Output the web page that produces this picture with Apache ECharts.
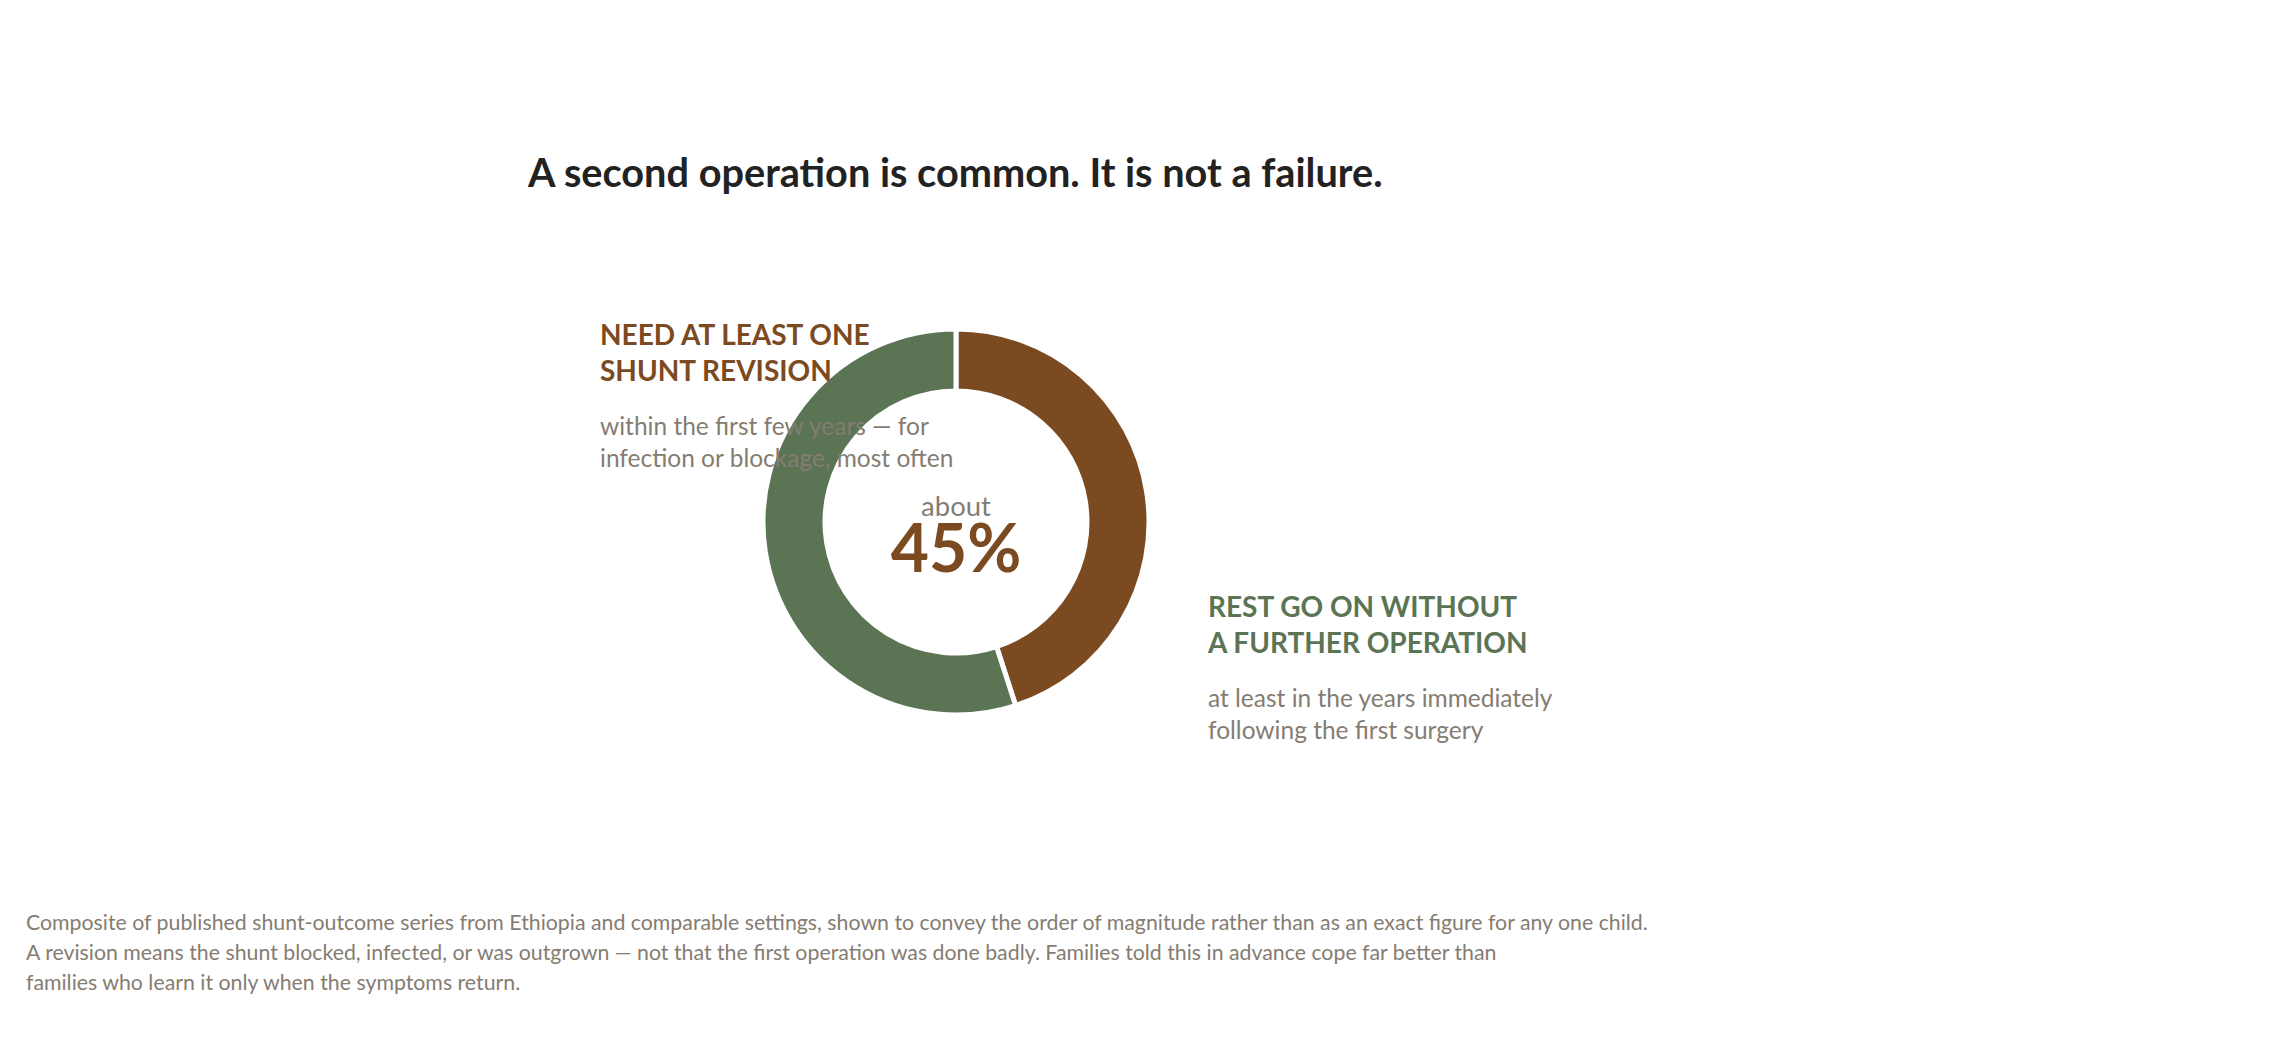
<!DOCTYPE html>
<html>
<head>
<meta charset="utf-8">
<script src="https://cdn.jsdelivr.net/npm/echarts@6/dist/echarts.min.js"></script>
<style>
  html, body { margin: 0; padding: 0; background: #fff; }
  #chart { width: 2280px; height: 1040px; }
</style>
</head>
<body>
<div id="chart"></div>
<script>
// data
const categories = ['Need at least one shunt revision', 'Rest go on without a further operation'];
const shares = [45, 55];
const colors = ['#7b4a21', '#5a7454'];

const headline = 'A second operation is common. It is not a failure.';
const centerSmall = 'about';
const centerBig = '45%';
const leftHead = ['NEED AT LEAST ONE', 'SHUNT REVISION'];
const leftNote = ['within the first few years — for', 'infection or blockage, most often'];
const rightHead = ['REST GO ON WITHOUT', 'A FURTHER OPERATION'];
const rightNote = ['at least in the years immediately', 'following the first surgery'];
const footnote = [
  'Composite of published shunt-outcome series from Ethiopia and comparable settings, shown to convey the order of magnitude rather than as an exact figure for any one child.',
  'A revision means the shunt blocked, infected, or was outgrown — not that the first operation was done badly. Families told this in advance cope far better than',
  'families who learn it only when the symptoms return.'
];

const FONT = 'Lato, "Noto Sans", sans-serif';
const GREY = '#857c72';

function lines(arr, x, y, step, size, weight, color, align) {
  return arr.map((t, i) => ({
    type: 'text',
    x: x,
    y: y + i * step,
    z: 10,
    style: {
      text: t,
      fill: color,
      font: weight + ' ' + size + 'px ' + FONT,
      align: align || 'left',
      verticalAlign: 'middle'
    }
  }));
}

const chart = echarts.init(document.getElementById('chart'), null, {renderer: 'svg'});

chart.setOption({
  backgroundColor: '#ffffff',
  animation: false,
  title: {
    text: headline,
    left: 523,
    top: 146,
    textStyle: {fontFamily: FONT, fontWeight: 'bold', fontSize: 39.7, color: '#222222'}
  },
  series: [{
    type: 'pie',
    center: [956, 522],
    radius: [131, 193],
    startAngle: 90,
    clockwise: true,
    silent: true,
    label: {show: false},
    labelLine: {show: false},
    itemStyle: {borderColor: '#ffffff', borderWidth: 5},
    data: categories.map((c, i) => ({name: c, value: shares[i], itemStyle: {color: colors[i]}}))
  }],
  graphic: [].concat(
    lines(leftHead, 600, 334, 36, 28, 'bold', colors[0]),
    lines(leftNote, 600, 425, 32, 24.5, 'normal', GREY),
    lines(rightHead, 1208, 606, 36, 28, 'bold', colors[1]),
    lines(rightNote, 1208, 697, 32, 24.5, 'normal', GREY),
    lines([centerSmall], 956, 505, 0, 27.5, 'normal', GREY, 'center'),
    lines([centerBig], 956, 546, 0, 66, 'bold', colors[0], 'center'),
    lines(footnote, 26, 922, 30, 21.3, 'normal', GREY)
  )
});
</script>
</body>
</html>
